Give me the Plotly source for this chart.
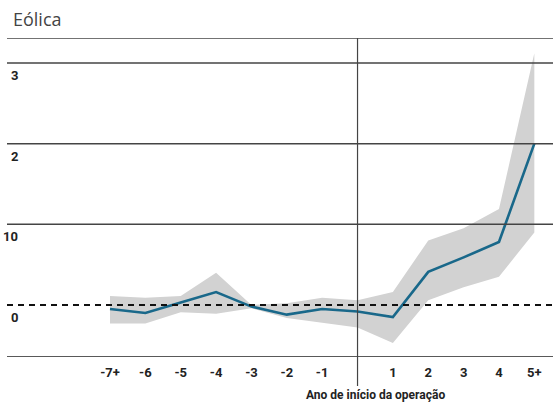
import plotly.graph_objects as go

# Years relative to start of operation (0 = start year, no label)
years = [-7, -6, -5, -4, -3, -2, -1, 0, 1, 2, 3, 4, 5]
year_labels = ["-7+", "-6", "-5", "-4", "-3", "-2", "-1", "", "1", "2", "3", "4", "5+"]

# Estimated effect and confidence band
effect = [-0.5, -1.0, 0.3, 1.6, -0.2, -1.2, -0.5, -0.8, -1.5, 4.1, 5.9, 7.8, 20.0]
upper = [1.1, 0.9, 1.1, 4.0, 0.0, 0.2, 0.9, 0.6, 1.6, 8.0, 9.5, 11.9, 31.2]
lower = [-2.3, -2.3, -0.9, -1.1, -0.4, -1.6, -2.2, -2.8, -4.7, 0.6, 2.2, 3.5, 9.0]

# Horizontal reference levels and their printed labels
grid_levels = [30, 20, 10]
grid_labels = ["3", "2", "10"]
zero_label = "0"

Y_MIN, Y_MAX = -6.45, 33.1
X_MIN, X_MAX = -9.913, 5.528

fig = go.Figure()

fig.add_trace(go.Scatter(x=years, y=lower, mode="lines", line=dict(width=0, color="#d2d2d2"),
                         hoverinfo="skip", showlegend=False))
fig.add_trace(go.Scatter(x=years, y=upper, mode="lines", line=dict(width=0, color="#d2d2d2"),
                         fill="tonexty", fillcolor="#d2d2d2", hoverinfo="skip", showlegend=False))
fig.add_trace(go.Scatter(x=years, y=effect, mode="lines", line=dict(width=2.6, color="#19688a"),
                         showlegend=False))

shapes = []
# top frame line
shapes.append(dict(type="line", xref="paper", yref="y", x0=0, x1=1, y0=Y_MAX, y1=Y_MAX,
                   line=dict(color="#444444", width=1.5)))
for lv in grid_levels:
    shapes.append(dict(type="line", xref="paper", yref="y", x0=0, x1=1, y0=lv, y1=lv,
                       line=dict(color="#444444", width=1.5), layer="above"))
# zero reference, dashed
shapes.append(dict(type="line", xref="paper", yref="y", x0=0, x1=1, y0=0, y1=0,
                   line=dict(color="#111111", width=2, dash="6px,5px"), layer="above"))
# bottom axis line
shapes.append(dict(type="line", xref="paper", yref="y", x0=0, x1=1, y0=Y_MIN, y1=Y_MIN,
                   line=dict(color="#222222", width=1.5), layer="above"))
# start-of-operation marker
shapes.append(dict(type="line", xref="x", yref="paper", x0=0, x1=0, y0=-0.091, y1=1,
                   line=dict(color="#444444", width=1.2), layer="above"))

annotations = []
for lv, lab in zip(grid_levels + [0], grid_labels + [zero_label]):
    annotations.append(dict(x=0.0238, xref="paper", y=lv, yref="y", text=f"<b>{lab}</b>",
                            showarrow=False, xanchor="right", yanchor="top", yshift=-3,
                            font=dict(family="Roboto", size=13, color="#222222")))
annotations.append(dict(x=0.5, xref="x", y=-0.118, yref="paper",
                        text="<b>Ano de início da operação</b>", showarrow=False,
                        xanchor="center", yanchor="middle",
                        font=dict(family="Roboto", size=12, color="#222222")))

fig.update_layout(
    width=553, height=403,
    margin=dict(l=7, r=0, t=38, b=46),
    paper_bgcolor="white", plot_bgcolor="white",
    title=dict(text="Eólica", x=13 / 553, xanchor="left", y=1 - 20 / 403, yanchor="middle",
               font=dict(family="Open Sans", size=18, color="#444444")),
    xaxis=dict(range=[X_MIN, X_MAX], tickmode="array", tickvals=years,
               ticktext=[f"<b>{t}</b>" if t else "" for t in year_labels],
               showgrid=False, zeroline=False, showline=False, ticks="",
               tickfont=dict(family="Roboto", size=13, color="#222222"),
               ticklabelstandoff=6),
    yaxis=dict(range=[Y_MIN, Y_MAX], showgrid=False, zeroline=False, showline=False,
               showticklabels=False, ticks=""),
    shapes=shapes,
    annotations=annotations,
)

fig.write_html("out.html")
